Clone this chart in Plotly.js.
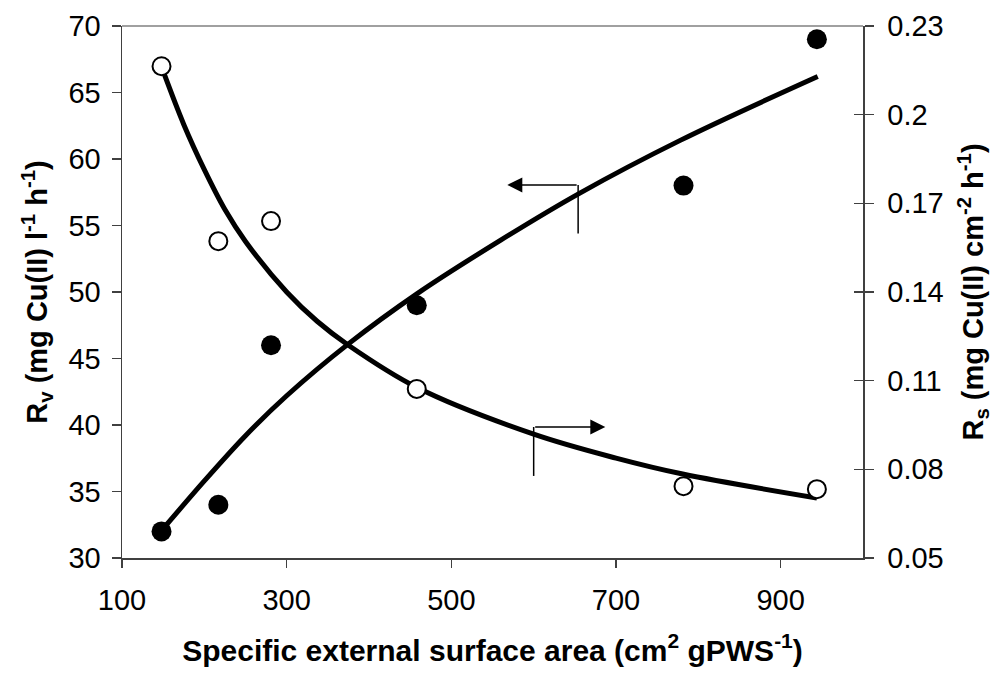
<!DOCTYPE html>
<html>
<head>
<meta charset="utf-8">
<script src="https://cdn.plot.ly/plotly-3.0.1.min.js"></script>
<style>
  html, body { margin: 0; padding: 0; background: #fff; }
  #chart { width: 996px; height: 674px; }
</style>
</head>
<body>
<div id="chart"></div>
<script>
// Measured points: specific external surface area vs. removal rates
const surfaceArea = [148, 217, 281, 458, 782, 944];
const rateVolume  = [32, 34, 46, 49, 58, 69];                        // Rv, left axis
const rateSurface = [0.2164, 0.1572, 0.164, 0.1072, 0.0743, 0.0733]; // Rs, right axis

// Fitted trend curves, sampled along x
const fitVolumeX = [150, 200, 250, 300, 375, 459, 560, 655, 778, 945];
const fitVolumeY = [32.2, 35.8, 39.2, 42.2, 46.1, 49.9, 53.9, 57.4, 61.4, 66.2];
const fitSurfaceX = [150, 175, 200, 225, 250, 300, 337, 375, 459, 600, 700, 781, 944];
const fitSurfaceY = [0.2147, 0.1967, 0.1814, 0.1679, 0.1571, 0.14, 0.1301, 0.122, 0.1076, 0.0919, 0.0838, 0.0784, 0.0703];

// Axis ticks
const xTicks = [100, 300, 500, 700, 900];
const leftTicks = [30, 35, 40, 45, 50, 55, 60, 65, 70];
const rightTicks = [0.05, 0.08, 0.11, 0.14, 0.17, 0.2, 0.23];
const rightTickText = ['0.05', '0.08', '0.11', '0.14', '0.17', '0.2', '0.23'];

const FONT = 'Liberation Sans, Arial, sans-serif';
const AXIS = '#404040';

const traces = [
  {
    x: fitVolumeX, y: fitVolumeY, mode: 'lines', line: {color: '#000', width: 5, shape: 'spline'},
    yaxis: 'y', hoverinfo: 'skip'
  },
  {
    x: fitSurfaceX, y: fitSurfaceY, mode: 'lines', line: {color: '#000', width: 5, shape: 'spline'},
    yaxis: 'y2', hoverinfo: 'skip'
  },
  {
    x: surfaceArea, y: rateVolume, mode: 'markers', yaxis: 'y',
    marker: {symbol: 'circle', size: 20, color: '#000', line: {width: 0}}
  },
  {
    x: surfaceArea, y: rateSurface, mode: 'markers', yaxis: 'y2',
    marker: {symbol: 'circle', size: 18, color: '#fff', line: {width: 2, color: '#000'}}
  }
];

const layout = {
  width: 996, height: 674,
  margin: {l: 122, r: 133, t: 26, b: 116},
  paper_bgcolor: '#fff', plot_bgcolor: '#fff',
  showlegend: false,
  font: {family: FONT, color: '#000', size: 29},
  xaxis: {
    range: [100, 1000], tickvals: xTicks, ticks: 'outside', ticklen: 8, tickwidth: 1.5, tickcolor: AXIS,
    showline: true, linecolor: AXIS, linewidth: 1.5, showgrid: false, zeroline: false,
    tickfont: {size: 29}, ticklabelstandoff: 8,
    title: {text: '<b>Specific external surface area (cm<sup>2</sup> gPWS<sup>-1</sup>)</b>', font: {size: 30}, standoff: 24}
  },
  yaxis: {
    range: [30, 70], tickvals: leftTicks, ticks: 'outside', ticklen: 9, tickwidth: 1.5, tickcolor: AXIS,
    showline: true, linecolor: AXIS, linewidth: 1.5, showgrid: false, zeroline: false,
    tickfont: {size: 29}, ticklabelstandoff: 5,
    title: {text: '<b>R<sub>v</sub> (mg Cu(II) l<sup>-1</sup> h<sup>-1</sup>)</b>', font: {size: 29}, standoff: 12}
  },
  yaxis2: {
    range: [0.05, 0.23], tickvals: rightTicks, ticktext: rightTickText, overlaying: 'y', side: 'right',
    ticks: 'outside', ticklen: 9, tickwidth: 1.5, tickcolor: AXIS,
    showline: true, linecolor: AXIS, linewidth: 1.5, showgrid: false, zeroline: false,
    tickfont: {size: 29}, ticklabelstandoff: 8,
    title: {text: '<b>R<sub>s</sub> (mg Cu(II) cm<sup>-2</sup> h<sup>-1</sup>)</b>', font: {size: 29}, standoff: 20}
  },
  // inner half of the crossing ticks on the right axis
  yaxis3: {
    range: [0.05, 0.23], tickvals: rightTicks, overlaying: 'y', side: 'right', anchor: 'x',
    ticks: 'inside', ticklen: 9, tickwidth: 1.5, tickcolor: AXIS, showticklabels: false,
    showline: false, showgrid: false, zeroline: false
  },
  shapes: [
    // top border of the plot area
    {type: 'line', xref: 'paper', yref: 'paper', x0: 0, x1: 1, y0: 1, y1: 1, line: {color: '#808080', width: 1.5}},
    // stems of the axis pointers
    {type: 'line', xref: 'x', yref: 'y', x0: 654, x1: 654, y0: 54.4, y1: 58.05, line: {color: '#000', width: 1.5}},
    {type: 'line', xref: 'x', yref: 'y', x0: 600, x1: 600, y0: 36.17, y1: 39.85, line: {color: '#000', width: 1.5}}
  ],
  annotations: [
    {x: 568, y: 58.05, ax: 654, ay: 58.05, xref: 'x', yref: 'y', axref: 'x', ayref: 'y',
     text: '', showarrow: true, arrowhead: 2, arrowsize: 2, arrowwidth: 1.5, arrowcolor: '#000', standoff: 0},
    {x: 687, y: 39.85, ax: 600, ay: 39.85, xref: 'x', yref: 'y', axref: 'x', ayref: 'y',
     text: '', showarrow: true, arrowhead: 2, arrowsize: 2, arrowwidth: 1.5, arrowcolor: '#000', standoff: 0}
  ]
};

// invisible trace so the tick-only axis is drawn
traces.push({x: [100], y: [0.05], yaxis: 'y3', mode: 'markers', marker: {opacity: 0}, hoverinfo: 'skip'});

Plotly.newPlot('chart', traces, layout, {displayModeBar: false, staticPlot: true});
</script>
</body>
</html>
